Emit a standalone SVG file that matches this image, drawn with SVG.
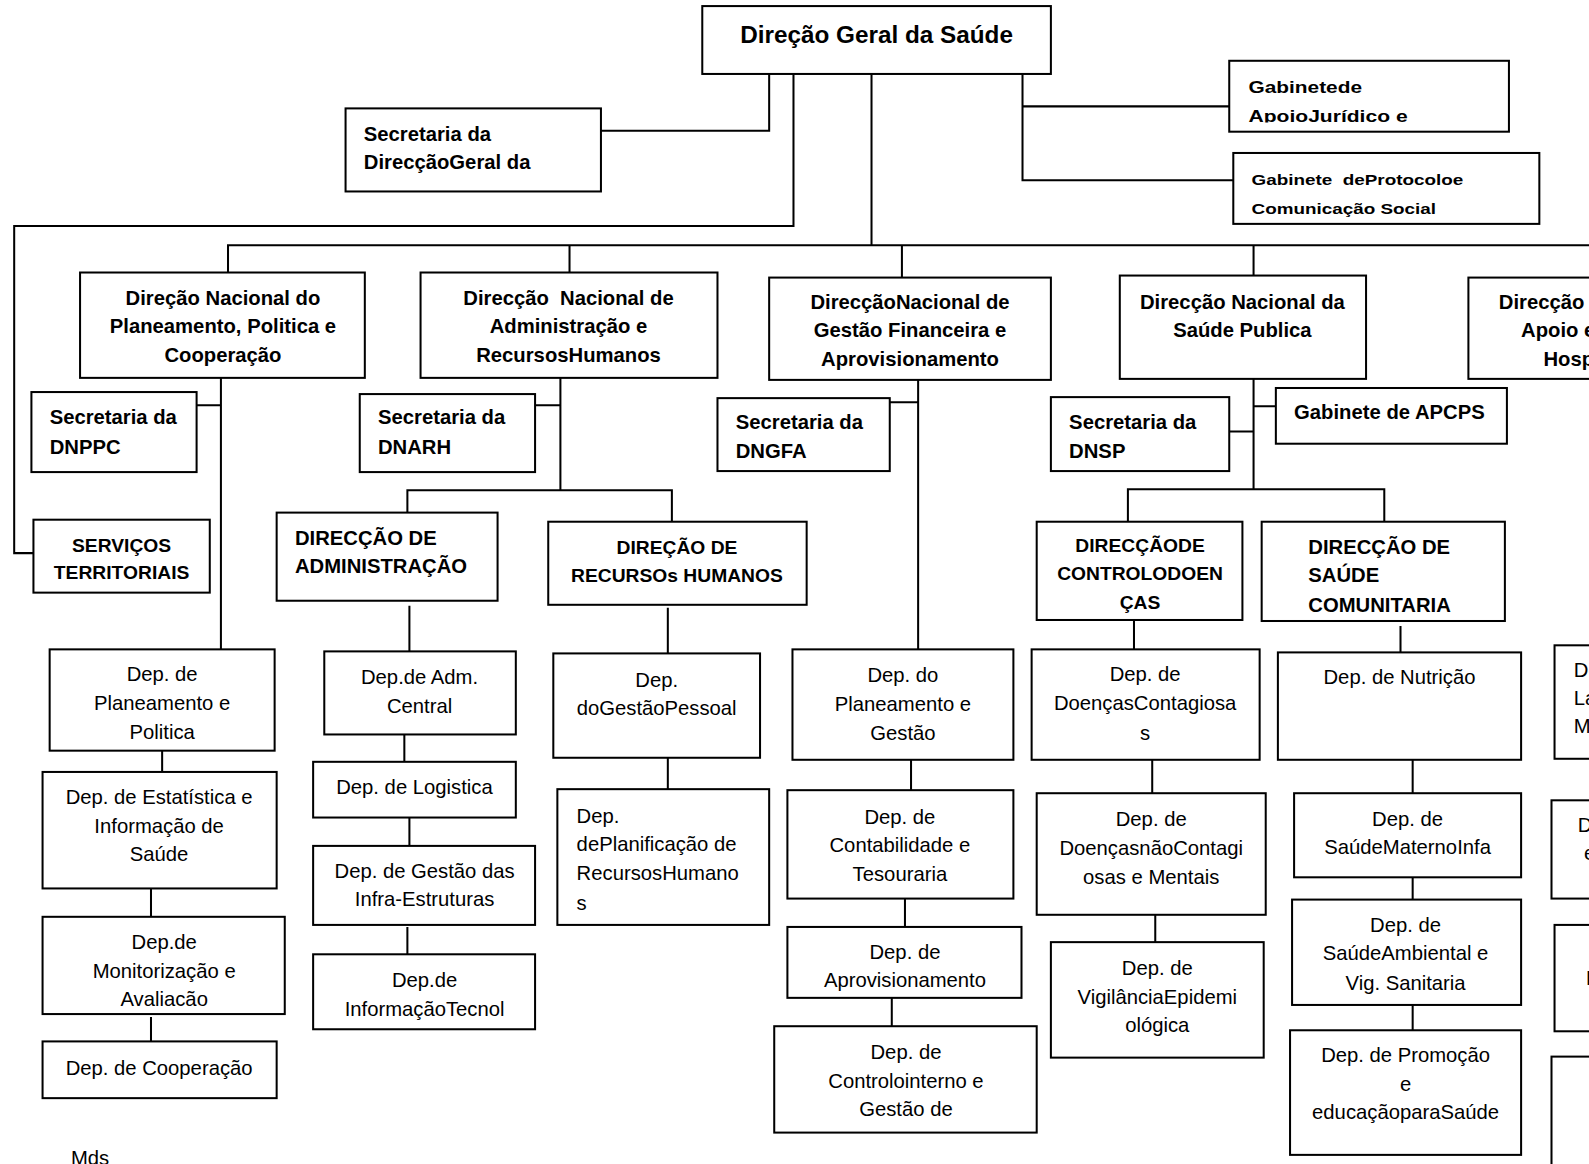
<svg xmlns="http://www.w3.org/2000/svg" width="1589" height="1164" viewBox="0 0 1589 1164">
<style>
.b{fill:#fff;stroke:#000;stroke-width:2}
.c{fill:none;stroke:#000;stroke-width:2}
text{font-family:"Liberation Sans",Arial,sans-serif;fill:#000}
.h{font-weight:bold;font-size:20px}
.u{font-size:19px}
.t{font-weight:bold;font-size:24px}
.r{font-size:20px}
.m{text-anchor:middle}
.a{font-weight:bold}
</style>
<defs>
<clipPath id="clipApoio"><rect x="1213" y="60" width="276" height="61"/></clipPath>
</defs>
<rect width="1589" height="1164" fill="#fff"/>
<g transform="scale(1.01339,1.01305)">
<g id="connectors">
<path class="c" d="M759,73V129H593"/>
<path class="c" d="M783,73V223H14V546H33"/>
<path class="c" d="M860,73V242"/>
<path class="c" d="M225,269V242H1580"/>
<path class="c" d="M562,242V269M890,242V274M1237,242V272"/>
<path class="c" d="M1009,70V178H1217M1009,105H1213"/>
<path class="c" d="M218,373V641M194,400H218"/>
<path class="c" d="M553,373V484M528,400H553M402,506V484H663V515"/>
<path class="c" d="M906,375V641M878,397H906"/>
<path class="c" d="M1237,374V483M1237,401H1259M1213,426H1237M1113,515V483H1366V515"/>
<path class="c" d="M404,598V643M659,600V645M1119,612V641M1382,618V644"/>
<path class="c" d="M160,741V762M149,877V905M149,1004V1028"/>
<path class="c" d="M399,725V752M404,807V835M402,915V942"/>
<path class="c" d="M659,748V779"/>
<path class="c" d="M899,750V780M893,887V915M880,985V1013"/>
<path class="c" d="M1137,750V783M1140,903V930"/>
<path class="c" d="M1394,750V783M1394,866V888M1394,992V1017"/>
</g>
<g id="dgs"><rect class="b" x="693" y="6" width="344" height="67"/><text class="t m" x="865" y="42">Direção Geral da Saúde</text></g>
<g id="sec-dg"><rect class="b" x="341" y="107" width="252" height="82"/><text class="h" x="359" y="139">Secretaria da</text><text class="h" x="359" y="167">DirecçãoGeral da</text></g>
<g id="gab-juridico"><rect class="b" x="1213" y="60" width="276" height="70"/><text class="a" x="1232" y="92" font-size="17" textLength="112" lengthAdjust="spacingAndGlyphs">Gabinetede</text><text class="a" x="1232" y="120" font-size="17" textLength="157" lengthAdjust="spacingAndGlyphs" clip-path="url(#clipApoio)">ApoioJurídico e</text></g>
<g id="gab-protocolo"><rect class="b" x="1217" y="151" width="302" height="70"/><text class="a" x="1235" y="183" font-size="15" textLength="209" lengthAdjust="spacingAndGlyphs" xml:space="preserve">Gabinete  deProtocoloe</text><text class="a" x="1235" y="211" font-size="15" textLength="182" lengthAdjust="spacingAndGlyphs">Comunicação Social</text></g>
<g id="dnppc"><rect class="b" x="79" y="269" width="281" height="104"/><text class="h m" x="220" y="301">Direção Nacional do</text><text class="h m" x="220" y="329">Planeamento, Politica e</text><text class="h m" x="220" y="357">Cooperação</text></g>
<g id="dnarh"><rect class="b" x="415" y="269" width="293" height="104"/><text class="h m" x="561" y="301" xml:space="preserve">Direcção  Nacional de</text><text class="h m" x="561" y="329">Administração e</text><text class="h m" x="561" y="357">RecursosHumanos</text></g>
<g id="dngfa"><rect class="b" x="759" y="274" width="278" height="101"/><text class="h m" x="898" y="305">DirecçãoNacional de</text><text class="h m" x="898" y="333">Gestão Financeira e</text><text class="h m" x="898" y="361">Aprovisionamento</text></g>
<g id="dnsp"><rect class="b" x="1105" y="272" width="243" height="102"/><text class="h m" x="1226" y="305">Direcção Nacional da</text><text class="h m" x="1226" y="333">Saúde Publica</text></g>
<g id="dnah"><rect class="b" x="1449" y="274" width="160" height="100"/><text class="h" x="1479" y="305">Direcção</text><text class="h" x="1501" y="333">Apoio e</text><text class="h" x="1523" y="361">Hosp</text></g>
<g id="sec-dnppc"><rect class="b" x="31" y="387" width="163" height="79"/><text class="h" x="49" y="419">Secretaria da</text><text class="h" x="49" y="448">DNPPC</text></g>
<g id="servicos"><rect class="b" x="33" y="513" width="174" height="72"/><text class="h u m" x="120" y="545">SERVIÇOS</text><text class="h u m" x="120" y="572">TERRITORIAIS</text></g>
<g id="sec-dnarh"><rect class="b" x="355" y="389" width="173" height="77"/><text class="h" x="373" y="419">Secretaria da</text><text class="h" x="373" y="448">DNARH</text></g>
<g id="dir-adm"><rect class="b" x="273" y="506" width="218" height="87"/><text class="h" x="291" y="538">DIRECÇÃO DE</text><text class="h" x="291" y="566">ADMINISTRAÇÃO</text></g>
<g id="dir-rh"><rect class="b" x="541" y="515" width="255" height="82"/><text class="h u m" x="668" y="547">DIREÇÃO DE</text><text class="h u m" x="668" y="575">RECURSOs HUMANOS</text></g>
<g id="sec-dngfa"><rect class="b" x="708" y="393" width="170" height="72"/><text class="h" x="726" y="423">Secretaria da</text><text class="h" x="726" y="452">DNGFA</text></g>
<g id="sec-dnsp"><rect class="b" x="1037" y="392" width="176" height="73"/><text class="h" x="1055" y="423">Secretaria da</text><text class="h" x="1055" y="452">DNSP</text></g>
<g id="gab-apcps"><rect class="b" x="1259" y="383" width="228" height="55"/><text class="h" x="1277" y="414">Gabinete de APCPS</text></g>
<g id="dir-cd"><rect class="b" x="1023" y="515" width="203" height="97"/><text class="h u m" x="1125" y="545">DIRECÇÃODE</text><text class="h u m" x="1125" y="573">CONTROLODOEN</text><text class="h u m" x="1125" y="601">ÇAS</text></g>
<g id="dir-sc"><rect class="b" x="1245" y="515" width="240" height="98"/><text class="h" x="1291" y="547">DIRECÇÃO DE</text><text class="h" x="1291" y="575">SAÚDE</text><text class="h" x="1291" y="604">COMUNITARIA</text></g>
<g id="dep-planeamento"><rect class="b" x="49" y="641" width="222" height="100"/><text class="r m" x="160" y="672">Dep. de</text><text class="r m" x="160" y="701">Planeamento e</text><text class="r m" x="160" y="729">Politica</text></g>
<g id="dep-estatistica"><rect class="b" x="42" y="762" width="231" height="115"/><text class="r m" x="157" y="794">Dep. de Estatística e</text><text class="r m" x="157" y="822">Informação de</text><text class="r m" x="157" y="850">Saúde</text></g>
<g id="dep-monitorizacao"><rect class="b" x="42" y="905" width="239" height="96"/><text class="r m" x="162" y="937">Dep.de</text><text class="r m" x="162" y="965">Monitorização e</text><text class="r m" x="162" y="993">Avaliacão</text></g>
<g id="dep-cooperacao"><rect class="b" x="42" y="1028" width="231" height="56"/><text class="r m" x="157" y="1061">Dep. de Cooperação</text></g>
<g id="dep-adm-central"><rect class="b" x="320" y="643" width="189" height="82"/><text class="r m" x="414" y="675">Dep.de Adm.</text><text class="r m" x="414" y="704">Central</text></g>
<g id="dep-logistica"><rect class="b" x="309" y="752" width="200" height="55"/><text class="r m" x="409" y="784">Dep. de Logistica</text></g>
<g id="dep-infra"><rect class="b" x="309" y="835" width="219" height="78"/><text class="r m" x="419" y="867">Dep. de Gestão das</text><text class="r m" x="419" y="894">Infra-Estruturas</text></g>
<g id="dep-info"><rect class="b" x="309" y="942" width="219" height="74"/><text class="r m" x="419" y="974">Dep.de</text><text class="r m" x="419" y="1003">InformaçãoTecnol</text></g>
<g id="dep-pessoal"><rect class="b" x="546" y="645" width="204" height="103"/><text class="r m" x="648" y="678">Dep.</text><text class="r m" x="648" y="706">doGestãoPessoal</text></g>
<g id="dep-planificacao"><rect class="b" x="550" y="779" width="209" height="134"/><text class="r" x="569" y="812">Dep.</text><text class="r" x="569" y="840">dePlanificação de</text><text class="r" x="569" y="869">RecursosHumano</text><text class="r" x="569" y="898">s</text></g>
<g id="dep-plan-gestao"><rect class="b" x="782" y="641" width="218" height="109"/><text class="r m" x="891" y="673">Dep. do</text><text class="r m" x="891" y="702">Planeamento e</text><text class="r m" x="891" y="730">Gestão</text></g>
<g id="dep-contabilidade"><rect class="b" x="777" y="780" width="223" height="107"/><text class="r m" x="888" y="813">Dep. de</text><text class="r m" x="888" y="841">Contabilidade e</text><text class="r m" x="888" y="870">Tesouraria</text></g>
<g id="dep-aprovisionamento"><rect class="b" x="777" y="915" width="231" height="70"/><text class="r m" x="893" y="947">Dep. de</text><text class="r m" x="893" y="974">Aprovisionamento</text></g>
<g id="dep-controlo"><rect class="b" x="764" y="1013" width="259" height="105"/><text class="r m" x="894" y="1045">Dep. de</text><text class="r m" x="894" y="1074">Controlointerno e</text><text class="r m" x="894" y="1102">Gestão de</text></g>
<g id="dep-contagiosas"><rect class="b" x="1018" y="641" width="225" height="109"/><text class="r m" x="1130" y="672">Dep. de</text><text class="r m" x="1130" y="701">DoençasContagiosa</text><text class="r m" x="1130" y="730">s</text></g>
<g id="dep-nao-contagiosas"><rect class="b" x="1023" y="783" width="226" height="120"/><text class="r m" x="1136" y="815">Dep. de</text><text class="r m" x="1136" y="844">DoençasnãoContagi</text><text class="r m" x="1136" y="873">osas e Mentais</text></g>
<g id="dep-vigilancia"><rect class="b" x="1037" y="930" width="210" height="114"/><text class="r m" x="1142" y="962">Dep. de</text><text class="r m" x="1142" y="991">VigilânciaEpidemi</text><text class="r m" x="1142" y="1019">ológica</text></g>
<g id="dep-nutricao"><rect class="b" x="1261" y="644" width="240" height="106"/><text class="r m" x="1381" y="675">Dep. de Nutrição</text></g>
<g id="dep-materno"><rect class="b" x="1277" y="783" width="224" height="83"/><text class="r m" x="1389" y="815">Dep. de</text><text class="r m" x="1389" y="843">SaúdeMaternoInfa</text></g>
<g id="dep-ambiental"><rect class="b" x="1275" y="888" width="226" height="104"/><text class="r m" x="1387" y="920">Dep. de</text><text class="r m" x="1387" y="948">SaúdeAmbiental e</text><text class="r m" x="1387" y="977">Vig. Sanitaria</text></g>
<g id="dep-promocao"><rect class="b" x="1273" y="1017" width="228" height="123"/><text class="r m" x="1387" y="1048">Dep. de Promoção</text><text class="r m" x="1387" y="1077">e</text><text class="r m" x="1387" y="1105">educaçãoparaSaúde</text></g>
<g id="dep-right-1"><rect class="b" x="1534" y="637" width="80" height="112"/><text class="r" x="1553" y="668">De</text><text class="r" x="1553" y="696">La</text><text class="r" x="1553" y="724">M</text></g>
<g id="dep-right-2"><rect class="b" x="1531" y="790" width="80" height="97"/><text class="r" x="1557" y="821">D</text><text class="r" x="1563" y="849">e</text></g>
<g id="dep-right-3"><rect class="b" x="1534" y="913" width="80" height="105"/><text class="r" x="1565" y="972">D</text></g>
<g id="dep-right-4"><rect class="b" x="1531" y="1043" width="80" height="130"/></g>
<text class="r" x="70" y="1150">Mds</text>
</g>
</svg>
